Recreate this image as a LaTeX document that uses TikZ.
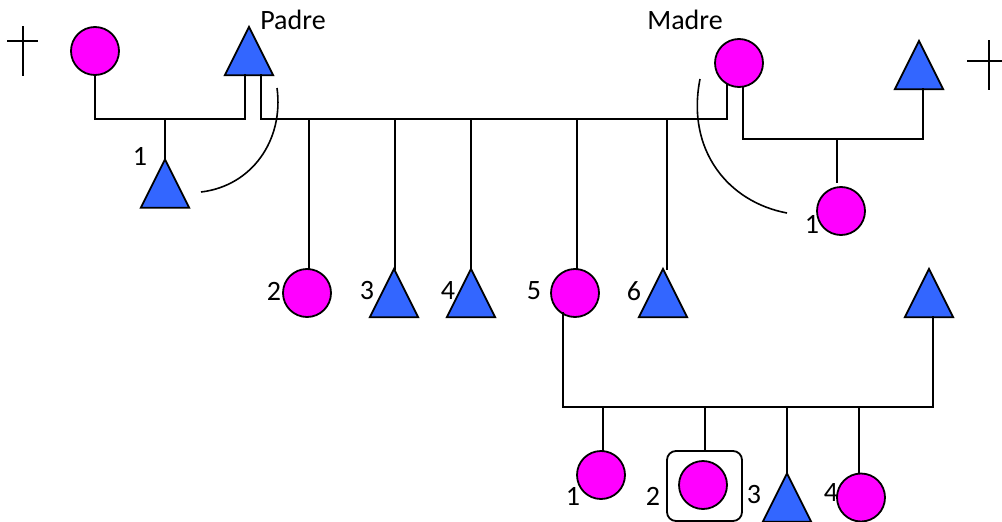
\documentclass[tikz,border=0pt]{standalone}
\usepackage{fontspec}
\setmainfont{Carlito}
\usetikzlibrary{calc}
\definecolor{fem}{RGB}{255,0,255}
\definecolor{mal}{RGB}{51,102,255}
\tikzset{
  ln/.style={line width=1.8pt, line cap=rect},
  fcirc/.style={circle, draw=black, line width=1.8pt, fill=fem, minimum size=48pt, inner sep=0pt},
  tribox/.style={rectangle, draw=none, minimum width=48pt, minimum height=48pt, inner sep=0pt},
  trifill/.style={draw=black, line width=1.8pt, fill=mal, line join=miter},
  lbl/.style={inner sep=0pt, font=\fontsize{28}{30}\selectfont},
  arcl/.style={line width=1.6pt},
}
\newcommand{\mytri}[3]{%
  \node[tribox] (#1) at (#2,#3) {};
  \filldraw[trifill] (#1.north) -- (#1.south east) -- (#1.south west) -- cycle;
}
\begin{document}
\begin{tikzpicture}[x=1pt,y=-1pt]
\useasboundingbox (0,0) rectangle (1002,522);

% left grandparents
\draw[ln] (23,27) -- (23,75);
\draw[ln] (8,41) -- (37,41);
\node[fcirc] (gml) at (95,51) {};
\mytri{pa}{249}{51}
\node[lbl] (tpa) at (293,20) {Padre};
\mytri{c1}{165}{183.5}
\node[lbl] (l1a) at (140,156) {1};
\coordinate (pal) at (245,75);
\coordinate (j1) at (245,119);
\coordinate (d1) at (165,119);
\draw[ln] (gml.south) |- (j1) -- (pal);
\draw[ln] (d1) -- (c1.north);
\draw[arcl] (277,88) .. controls (284,140) and (252,186) .. (201,192);

% parents
\node[fcirc] (ma) at (739,63) {};
\node[lbl] (tma) at (685,20) {Madre};
\coordinate (par) at (261,75);
\coordinate (j2) at (261,119);
\coordinate (mal) at (727,84);
\draw[ln] (par) -- (j2) -| (mal);

% right grandparents
\mytri{gfr}{919}{65}
\draw[ln] (989,41) -- (989,89);
\draw[ln] (968,61) -- (1001,61);
\coordinate (mar) at (743,87);
\coordinate (j3) at (743,139);
\coordinate (gfb) at (923,89);
\draw[ln] (mar) -- (j3) -| (gfb);
\node[fcirc] (hs) at (841,211) {};
\node[lbl] (l1b) at (812,224) {1};
\coordinate (d3) at (837,139);
\coordinate (e3) at (837,182);
\draw[ln] (d3) -- (e3);
\draw[arcl] (700,79) .. controls (686,150) and (728,202) .. (787,213);

% siblings
\node[fcirc] (s2) at (307,293) {};
\mytri{s3}{394}{293}
\mytri{s4}{471}{293}
\node[fcirc] (s5) at (575,293) {};
\mytri{s6}{663}{293}
\coordinate (d2a) at (309,119);
\coordinate (d2b) at (395,119);
\coordinate (d2c) at (471,119);
\coordinate (d2d) at (577,119);
\coordinate (d2e) at (667,119);
\draw[ln] (d2a) -- (d2a |- s2.north);
\draw[ln] (d2b) -- (d2b |- s3.north);
\draw[ln] (d2c) -- (d2c |- s4.north);
\draw[ln] (d2d) -- (d2d |- s5.north);
\draw[ln] (d2e) -- (d2e |- s6.north);
\node[lbl] (l2) at (274,291) {2};
\node[lbl] (l3) at (367,291) {3};
\node[lbl] (l4) at (448,291) {4};
\node[lbl] (l5) at (534,291) {5};
\node[lbl] (l6) at (634,291) {6};

% spouse of 5
\mytri{sp}{929}{293}
\coordinate (spb) at (933,317);
\coordinate (j4) at (933,407);
\coordinate (s5b) at (563,313);
\draw[ln] (spb) -- (j4) -| (s5b);

% grandchildren
\node[fcirc] (g1) at (601,475) {};
\node[draw, line width=1.8pt, rounded corners=9pt, minimum width=75pt, minimum height=70pt, inner sep=0pt] (g2box) at (704.5,486) {};
\node[fcirc] (g2) at (703,485) {};
\mytri{g3}{787}{497.5}
\node[fcirc] (g4) at (861,497.5) {};
\coordinate (d4a) at (603,407);
\coordinate (d4b) at (705,407);
\coordinate (d4c) at (787,407);
\coordinate (d4d) at (859,407);
\draw[ln] (d4a) -- (d4a |- g1.north);
\draw[ln] (d4b) -- (d4b |- g2box.north);
\draw[ln] (d4c) -- (g3.north);
\draw[ln] (d4d) -- (d4d |- g4.north);
\node[lbl] (m1) at (573,496) {1};
\node[lbl] (m2) at (653,496) {2};
\node[lbl] (m3) at (754,495) {3};
\node[lbl] (m4) at (831,493) {4};
\end{tikzpicture}
\end{document}
